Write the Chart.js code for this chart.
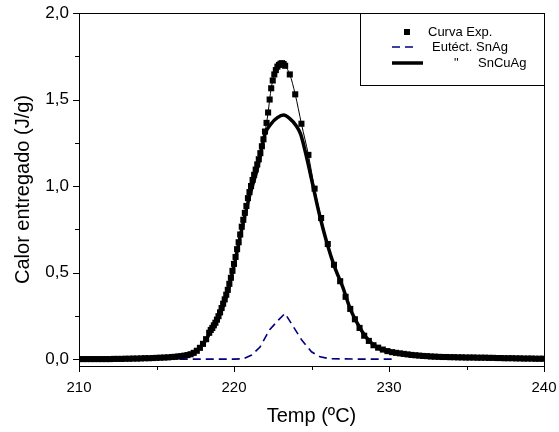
<!DOCTYPE html>
<html>
<head>
<meta charset="utf-8">
<script src="https://cdn.jsdelivr.net/npm/chart.js@4.4.0/dist/chart.umd.min.js"></script>
<style>
  html, body { margin: 0; padding: 0; background: #fff; }
</style>
</head>
<body>
<canvas id="myChart" width="559" height="432"></canvas>
<script>
// measured curve (squares)
const expTemp = [
  210, 210.25, 210.5, 210.75, 211, 211.25, 211.5, 211.75, 212, 212.25, 212.5, 212.75, 213, 213.25, 213.5, 213.75, 214, 214.25, 214.5, 214.75, 215, 215.25, 215.5, 215.75, 216,
  216.2, 216.4, 216.6, 216.8, 217, 217.2, 217.4, 217.6, 217.8, 218, 218.2, 218.4,
  218.5, 218.6, 218.7, 218.8, 218.9, 219, 219.1, 219.2, 219.3, 219.4, 219.5, 219.6, 219.7, 219.8, 219.9, 220, 220.1, 220.2, 220.3, 220.4, 220.5,
  220.6, 220.7, 220.8, 220.9, 221, 221.1, 221.2, 221.3, 221.4, 221.5, 221.6, 221.7, 221.8, 221.9, 222, 222.1, 222.2, 222.3, 222.4, 222.5,
  222.6, 222.7, 222.8, 222.9, 223, 223.1, 223.2, 223.3,
  223.6, 223.95, 224.35, 224.8, 225.2, 225.62, 226.05, 226.45, 226.85, 227.2, 227.5, 227.8, 228.1, 228.4, 228.7, 229, 229.3, 229.6, 229.9, 230.2,
  230.45, 230.7, 230.95, 231.2, 231.45, 231.7, 231.95, 232.2, 232.45, 232.7, 232.95, 233.2, 233.45, 233.7, 233.95, 234.2, 234.45, 234.7, 234.95, 235.2,
  235.45, 235.7, 235.95, 236.2, 236.45, 236.7, 236.95, 237.2, 237.45, 237.7, 237.95, 238.2, 238.45, 238.7, 238.95, 239.2, 239.45, 239.7, 239.95
];
const expVal = [
  0, 0, 0, 0, 0, 0, 0, 0, 0, 0.001, 0.001, 0.001, 0.002, 0.002, 0.003, 0.003, 0.004, 0.005, 0.005, 0.006, 0.007, 0.008, 0.009, 0.01, 0.012,
  0.013, 0.015, 0.017, 0.02, 0.023, 0.028, 0.036, 0.048, 0.065, 0.088, 0.115, 0.152,
  0.168, 0.18, 0.195, 0.21, 0.228, 0.248, 0.27, 0.295, 0.32, 0.345, 0.372, 0.40, 0.435, 0.47, 0.51, 0.55, 0.59, 0.635, 0.675, 0.72, 0.765,
  0.805, 0.845, 0.885, 0.93, 0.965, 1.0, 1.035, 1.065, 1.095, 1.125, 1.155, 1.19, 1.23, 1.27, 1.315, 1.365, 1.425, 1.50, 1.565, 1.61,
  1.645, 1.67, 1.69, 1.70, 1.707, 1.71, 1.705, 1.695,
  1.645, 1.53, 1.36, 1.18, 0.985, 0.815, 0.665, 0.545, 0.45, 0.36, 0.29, 0.23, 0.18, 0.135, 0.105, 0.08, 0.066, 0.055, 0.046, 0.04,
  0.036, 0.033, 0.03, 0.027, 0.024, 0.022, 0.02, 0.018, 0.017, 0.015, 0.014, 0.013, 0.012, 0.012, 0.011, 0.011, 0.01, 0.01, 0.009, 0.009,
  0.009, 0.008, 0.008, 0.008, 0.007, 0.007, 0.006, 0.006, 0.005, 0.005, 0.005, 0.004, 0.004, 0.003, 0.003, 0.003, 0.002, 0.002, 0.002
];

// eutectic SnAg (dashed)
const agTemp = [216.5, 218, 220, 220.6, 221.14, 221.68, 222.3, 222.86, 223.29, 223.83, 224.37, 225.0, 225.55, 226.2, 228, 230.2];
const agVal  = [0, 0, 0, 0.002, 0.023, 0.07, 0.17, 0.225, 0.264, 0.187, 0.11, 0.042, 0.013, 0.002, 0, 0];

// SnCuAg (thick line)
const cuTemp = [210, 212, 214, 215, 216, 216.5, 217, 217.5, 218, 218.5, 219, 219.5, 220, 220.5, 221, 221.5, 222, 222.4, 222.8, 223.2,
  223.6, 224, 224.3, 224.7, 225, 225.5, 226, 226.5, 227, 227.5, 228, 228.5, 229, 229.5, 230, 231, 232, 234, 236, 238, 240];
const cuVal  = [0, 0.001, 0.004, 0.007, 0.011, 0.015, 0.021, 0.043, 0.085, 0.16, 0.24, 0.36, 0.54, 0.75, 0.94, 1.10, 1.30, 1.36, 1.395, 1.41,
  1.39, 1.35, 1.30, 1.16, 1.04, 0.84, 0.67, 0.53, 0.42, 0.29, 0.20, 0.128, 0.082, 0.056, 0.042, 0.027, 0.018, 0.011, 0.008, 0.004, 0.002];

const seriesNames = ['Curva Exp.', 'Eutéct. SnAg', 'SnCuAg'];
const xMajor = [210, 220, 230, 240];
const xMinor = [215, 225, 235];
const yMajor = [0, 0.5, 1.0, 1.5, 2.0];
const yMinor = [0.25, 0.75, 1.25, 1.75];

if (expTemp.length !== expVal.length) console.error('exp arrays differ', expTemp.length, expVal.length);

function pts(xs, ys) {
    return xs.map((t, i) => ({x: t, y: ys[i]}));
}

Chart.defaults.font.family = '"Liberation Sans", Arial, sans-serif';
Chart.defaults.color = '#000';

// frame, tick marks and the boxed legend
const framePlugin = {
    id: 'framePlugin',
    afterDraw(chart) {
        const {ctx, chartArea: a, scales: {x, y}} = chart;
        ctx.save();
        ctx.strokeStyle = '#000';
        ctx.lineWidth = 1;
        ctx.strokeRect(Math.round(a.left) + 0.5, Math.round(a.top) + 0.5,
            Math.round(a.right - a.left), Math.round(a.bottom - a.top));

        ctx.beginPath();
        xMajor.concat(xMinor).forEach(v => {
            const px = Math.round(x.getPixelForValue(v)) + 0.5;
            const len = xMajor.includes(v) ? 6 : 4;
            ctx.moveTo(px, a.bottom);
            ctx.lineTo(px, a.bottom + len);
        });
        yMajor.concat(yMinor).forEach(v => {
            const py = Math.round(y.getPixelForValue(v)) + 0.5;
            const len = yMajor.includes(v) ? 6 : 4;
            ctx.moveTo(a.left, py);
            ctx.lineTo(a.left - len, py);
        });
        ctx.stroke();

        // legend box
        const bx = 360, by = Math.round(a.top), bw = Math.round(a.right) - 360, bh = 72;
        ctx.strokeRect(bx + 0.5, by + 0.5, bw, bh);

        const ds = chart.data.datasets;
        ctx.font = '13px "Liberation Sans", Arial, sans-serif';
        ctx.textBaseline = 'middle';
        ctx.fillStyle = '#000';

        // row 1 : square
        ctx.fillRect(404, 29, 6, 6);
        ctx.fillText(seriesNames[0], 428, 32);

        // row 2 : dashed
        ctx.beginPath();
        ctx.strokeStyle = ds[1].borderColor;
        ctx.lineWidth = ds[1].borderWidth;
        ctx.setLineDash(ds[1].borderDash);
        ctx.moveTo(392, 47);
        ctx.lineTo(416, 47);
        ctx.stroke();
        ctx.setLineDash([]);
        ctx.fillText(seriesNames[1], 432, 47);

        // row 3 : thick line
        ctx.beginPath();
        ctx.strokeStyle = ds[2].borderColor;
        ctx.lineWidth = ds[2].borderWidth;
        ctx.moveTo(392, 63);
        ctx.lineTo(423, 63);
        ctx.stroke();
        ctx.fillText('"', 454, 63);
        ctx.fillText(seriesNames[2], 478, 63);
        ctx.restore();
    }
};

const ctx = document.getElementById('myChart');
const dataPlot = new Chart(ctx, {
    type: 'line',
    data: {
        datasets: [{
            label: seriesNames[0],
            data: pts(expTemp, expVal),
            borderColor: '#000',
            borderWidth: 1,
            pointStyle: 'rect',
            pointRadius: 4.3,
            pointBackgroundColor: '#000',
            pointBorderWidth: 0,
            cubicInterpolationMode: 'monotone'
        }, {
            label: seriesNames[1],
            data: pts(agTemp, agVal),
            borderColor: '#000080',
            borderWidth: 1.6,
            borderDash: [8, 5],
            pointRadius: 0,
            tension: 0
        }, {
            label: seriesNames[2],
            data: pts(cuTemp, cuVal),
            borderColor: '#000',
            borderWidth: 3.5,
            pointRadius: 0,
            cubicInterpolationMode: 'monotone'
        }]
    },
    options: {
        responsive: false,
        animation: false,
        layout: { padding: { top: 13, right: 15, left: 0, bottom: 0 } },
        plugins: {
            legend: { display: false },
            tooltip: { enabled: false }
        },
        scales: {
            x: {
                type: 'linear',
                min: 210,
                max: 240,
                afterBuildTicks: s => { s.ticks = xMajor.map(v => ({value: v})); },
                afterFit: s => { s.height = 66; s.paddingLeft = 0; s.paddingRight = 0; },
                grid: { display: false, drawTicks: false },
                border: { display: false },
                ticks: { padding: 13, font: { size: 15 }, callback: v => String(v) },
                title: { display: true, text: 'Temp (ºC)', font: { size: 20 }, padding: { top: 0, bottom: 4 } }
            },
            y: {
                min: -0.04,
                max: 2.0,
                afterBuildTicks: s => { s.ticks = yMajor.map(v => ({value: v})); },
                afterFit: s => { s.width = 79; s.paddingTop = 0; s.paddingBottom = 0; },
                grid: { display: false, drawTicks: false },
                border: { display: false },
                ticks: { padding: 10, font: { size: 17 }, callback: v => v.toFixed(1).replace('.', ',') },
                title: { display: true, text: 'Calor entregado (J/g)', font: { size: 20 }, padding: { top: 11, bottom: 0 } }
            }
        }
    },
    plugins: [framePlugin]
});
</script>
</body>
</html>
